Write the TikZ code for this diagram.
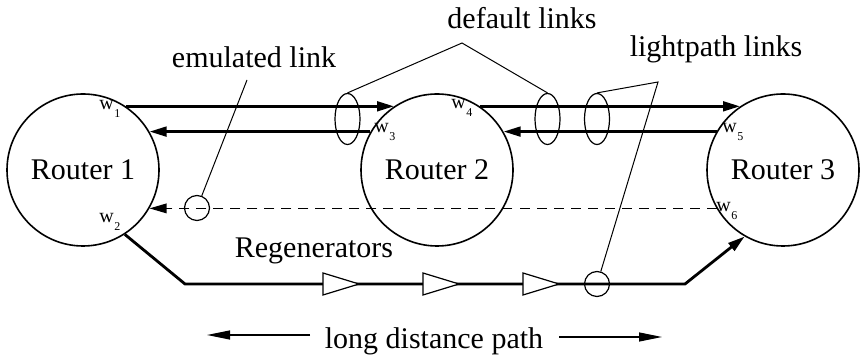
\documentclass[tikz,border=0pt]{standalone}
\usepackage{fontspec}
\setmainfont{Liberation Serif}
\usetikzlibrary{arrows.meta,shapes.geometric}
\newcommand\wlab[1]{w\kern0.3pt\raisebox{-4pt}{\fontsize{6}{7}\selectfont #1}}
\begin{document}
\begin{tikzpicture}[x=0.5pt,y=-0.5pt,
  router/.style={circle, draw, line width=0.8pt, minimum size=76pt, inner sep=0pt, font=\fontsize{15}{18}\selectfont},
  link/.style={line width=1.4pt, -{Triangle[length=8.5pt,width=4.8pt]}},
  callout/.style={line width=0.5pt},
  bundle/.style={ellipse, draw, line width=0.6pt, minimum width=12.5pt, minimum height=25.5pt, inner sep=0pt},
  tap/.style={circle, draw, line width=0.6pt, minimum size=12.5pt, inner sep=0pt},
  lbl/.style={font=\fontsize{15}{18}\selectfont, inner sep=0pt, anchor=base},
  wl/.style={font=\fontsize{10}{11}\selectfont, inner sep=0pt, anchor=base west},
  regen/.style={draw, line width=0.6pt, fill=white},
  farrow/.style={line width=0.6pt, -{Triangle[length=11.5pt,width=4.5pt]}}
]
\useasboundingbox (0,0) rectangle (860,356);

% routers
\node[router] (r1) at (83,170) {Router 1};
\node[router] (r2) at (437,170) {Router 2};
\node[router] (r3) at (783,170) {Router 3};

% port labels
\node[wl] (w1) at (99,110) {\wlab{1}};
\node[wl] (w2) at (99,223) {\wlab{2}};
\node[wl] (w3) at (374,133) {\wlab{3}};
\node[wl] (w4) at (451,109) {\wlab{4}};
\node[wl] (w5) at (722,133) {\wlab{5}};
\node[wl] (w6) at (716,212) {\wlab{6}};

% default / lightpath links
\draw[link] (r1.56) -- (r2.124);
\draw[link] (r2.150) -- (r1.30);
\draw[link] (r2.56) -- (r3.124);
\draw[link] (r3.150) -- (r2.30);

% emulated link
\draw[line width=0.65pt, dash pattern=on 5pt off 3.5pt, -{Triangle[length=8.5pt,width=4.8pt]}] (r3.210) -- (r1.-30);

% long distance path
\coordinate (b1) at (185,284);
\coordinate (b2) at (685,284);
\draw[link] (r1.-57) -- (b1) -- (b2) -- (r3.240);
\foreach \x in {323,423,523} {
  \draw[regen] (\x,273) -- ++(36,11) -- ++(-36,11) -- cycle;
}
\node[lbl] (regl) at (314,258) {Regenerators};

% bundles and taps
\node[bundle] (e1) at (347.5,119) {};
\node[bundle] (e2) at (547.5,119) {};
\node[bundle] (e3) at (597,119) {};
\node[tap] (c1) at (197,208) {};
\node[tap] (c2) at (597,284) {};

% callouts
\node[lbl] (dl) at (522,29) {default links};
\coordinate (dla) at (462,43);
\draw[callout] (e1.north) -- (dla) -- (e2.north);

\node[lbl] (ll) at (716,57) {lightpath links};
\coordinate (lla) at (658,82);
\draw[callout] (e3.north) -- (lla) -- (c2);

\node[lbl] (el) at (254,68) {emulated link};
\coordinate (ela) at (247,80);
\draw[callout] (ela) -- (c1);

% long distance label
\node[lbl] (ld) at (434,349) {long distance path};
\coordinate (lda) at (310,335);
\coordinate (ldb) at (207,335);
\coordinate (ldc) at (559,337);
\coordinate (ldd) at (662,337);
\draw[farrow] (lda) -- (ldb);
\draw[farrow] (ldc) -- (ldd);
\end{tikzpicture}
\end{document}
